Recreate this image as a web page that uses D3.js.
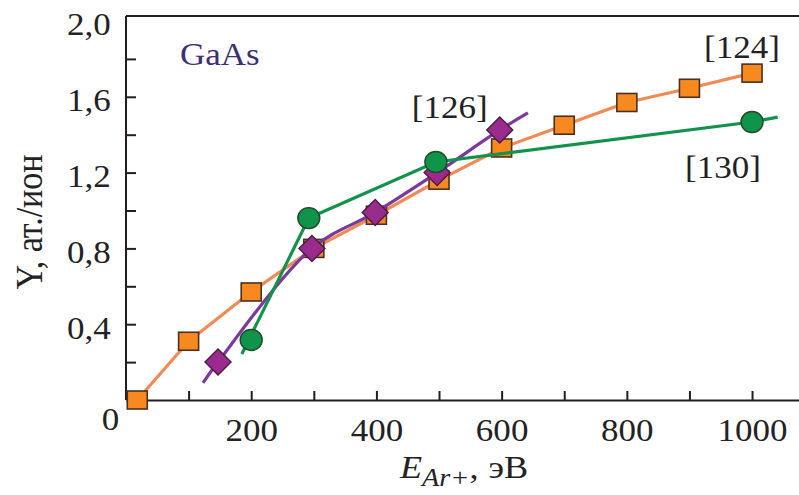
<!DOCTYPE html>
<html>
<head>
<meta charset="utf-8">
<script src="https://cdn.jsdelivr.net/npm/d3@7"></script>
<style>
  html, body { margin: 0; padding: 0; background: #fff; }
  svg { display: block; }
  svg text { font-family: "Liberation Serif", "Times New Roman", Times, "Nimbus Roman", serif; }
</style>
</head>
<body>
<svg id="chart" width="799" height="495"></svg>
<script>
// Sputtering yield of GaAs versus Ar+ ion energy, three literature sources.

// [124] — squares joined by a polyline
const energy124 = [18, 100, 200, 300, 400, 500, 600, 700, 800, 900, 1000];
const yield124  = [0.0, 0.31, 0.57, 0.80, 0.975, 1.16, 1.33, 1.45, 1.57, 1.645, 1.725];

// [126] — diamonds, with a guide curve extended past both ends
const energy126 = [147, 297, 398, 497, 597];
const yield126  = [0.20, 0.80, 0.99, 1.20, 1.425];
const guideEnergy126 = [123, 147, 297, 398, 497, 597, 642];
const guideYield126  = [0.09, 0.20, 0.80, 0.99, 1.20, 1.425, 1.515];

// [130] — circles, with a broken-line guide
const energy130 = [200, 292, 495, 1000];
const yield130  = [0.317, 0.96, 1.256, 1.467];
const guideEnergy130 = [185, 292, 495, 1000, 1041];
const guideYield130  = [0.243, 0.96, 1.256, 1.467, 1.493];

// Axis ticks
const xTickValues = [100, 200, 300, 400, 500, 600, 700, 800, 900, 1000];
const xTickLabels = ["", "200", "", "400", "", "600", "", "800", "", "1000"];
const yTickValues = [0, 0.2, 0.4, 0.6, 0.8, 1.0, 1.2, 1.4, 1.6, 1.8, 2.0];
const yTickLabels = ["0", "", "0,4", "", "0,8", "", "1,2", "", "1,6", "", "2,0"];

const seriesLabels = ["[124]", "[126]", "[130]"];
const materialLabel = "GaAs";

const SX = 1.13;           // horizontal stretch of the lettering
const FONT = 31;

const svg = d3.select("#chart");
const W = 799, H = 495;
const plot = { left: 126, right: 799, top: 16, bottom: 400 };

const x = d3.scaleLinear().domain([0, 1075]).range([plot.left, plot.right]);
const y = d3.scaleLinear().domain([0, 2.0]).range([plot.bottom, 21]);

svg.append("rect").attr("width", W).attr("height", H).attr("fill", "#fff");

const axisColor = "#231f20";

// top frame line
svg.append("line")
  .attr("x1", plot.left).attr("x2", plot.right)
  .attr("y1", plot.top).attr("y2", plot.top)
  .attr("stroke", axisColor).attr("stroke-width", 2);

// X axis
const xAxis = svg.append("g")
  .attr("transform", `translate(0,${plot.bottom})`)
  .call(d3.axisBottom(x)
    .tickValues(xTickValues)
    .tickSize(-9)
    .tickSizeOuter(0)
    .tickFormat((d, i) => xTickLabels[i]));
xAxis.attr("font-family", null);
xAxis.select(".domain").attr("stroke", axisColor).attr("stroke-width", 2);
xAxis.selectAll(".tick line").attr("stroke", axisColor).attr("stroke-width", 2);
xAxis.selectAll(".tick text")
  .attr("fill", "#222")
  .attr("font-size", FONT)
  .attr("y", 41).attr("dy", 0)
  .attr("transform", `scale(${SX},1)`);

// Y axis
const yAxis = svg.append("g")
  .attr("transform", `translate(${plot.left},0)`)
  .call(d3.axisLeft(y)
    .tickValues(yTickValues)
    .tickSize(-10)
    .tickSizeOuter(0)
    .tickFormat((d, i) => yTickLabels[i]));
yAxis.attr("font-family", null);
yAxis.select(".domain")
  .attr("d", `M0,${plot.top}V${plot.bottom}`)
  .attr("stroke", axisColor).attr("stroke-width", 2);
yAxis.selectAll(".tick line").attr("stroke", axisColor).attr("stroke-width", 2);
yAxis.selectAll(".tick")
  .filter(d => d === 0 || d === 2.0)
  .select("line").remove();
yAxis.selectAll(".tick text")
  .attr("fill", "#222")
  .attr("font-size", FONT)
  .attr("x", -13.5)
  .attr("dy", "0.35em")
  .attr("y", 3)
  .attr("transform", `scale(${SX},1)`);
// the zero label sits below the corner
yAxis.selectAll(".tick").filter(d => d === 0).select("text")
  .attr("x", -6).attr("y", 19);

// Series
const line = d3.line().x(d => x(d[0])).y(d => y(d[1]));

const pts124 = d3.zip(energy124, yield124);
const pts126 = d3.zip(energy126, yield126);
const pts130 = d3.zip(energy130, yield130);
const guide126 = d3.zip(guideEnergy126, guideYield126);
const guide130 = d3.zip(guideEnergy130, guideYield130);

// [124]
svg.append("path")
  .attr("d", line.curve(d3.curveLinear)(pts124))
  .attr("fill", "none").attr("stroke", "#f28a55").attr("stroke-width", 3.2)
  .attr("stroke-linejoin", "round");
svg.append("g").selectAll("rect").data(pts124).join("rect")
  .attr("x", d => x(d[0]) - 10).attr("y", d => y(d[1]) - 9)
  .attr("width", 20).attr("height", 18)
  .attr("fill", "#f7891f").attr("stroke", "#4a3020").attr("stroke-width", 1.6);

// [126]
svg.append("path")
  .attr("d", line.curve(d3.curveCatmullRom.alpha(0.5))(guide126))
  .attr("fill", "none").attr("stroke", "#7a3a9c").attr("stroke-width", 3.2);
svg.append("g").selectAll("path").data(pts126).join("path")
  .attr("d", d => {
    const cx = x(d[0]), cy = y(d[1]);
    return `M${cx},${cy - 13}L${cx + 13},${cy}L${cx},${cy + 13}L${cx - 13},${cy}Z`;
  })
  .attr("fill", "#9a2b8c").attr("stroke", "#4a1c44").attr("stroke-width", 1.4);

// [130]
svg.append("path")
  .attr("d", line.curve(d3.curveLinear)(guide130))
  .attr("fill", "none").attr("stroke", "#12924a").attr("stroke-width", 3.2);
svg.append("g").selectAll("ellipse").data(pts130).join("ellipse")
  .attr("cx", d => x(d[0])).attr("cy", d => y(d[1]))
  .attr("rx", 11).attr("ry", 10.5)
  .attr("fill", "#10944a").attr("stroke", "#1c4a2a").attr("stroke-width", 1.4);

// Lettering
function stretchedText(px, py, txt, size, anchor, fill) {
  return svg.append("text")
    .attr("transform", `translate(${px},${py}) scale(${SX},1)`)
    .attr("font-size", size)
    .attr("text-anchor", anchor || "start")
    .attr("fill", fill || "#222")
    .text(txt);
}

stretchedText(x(1000) - 48, y(1.725) - 15, seriesLabels[0], FONT);
stretchedText(x(597) - 88, y(1.425) - 12, seriesLabels[1], FONT);
stretchedText(x(1000) - 67, y(1.467) + 56, seriesLabels[2], FONT);
stretchedText(180, 65, materialLabel, FONT, "start", "#3d2f73");

// Axis titles
const xt = svg.append("text")
  .attr("transform", `translate(400,478) scale(${SX},1)`)
  .attr("font-size", 32).attr("fill", "#222");
xt.append("tspan").attr("font-style", "italic").text("E");
xt.append("tspan").attr("font-style", "italic").attr("font-size", 25).attr("dy", 8).text("Ar+");
xt.append("tspan").attr("dy", -8).text(",");
xt.append("tspan").attr("dx", 9).text("эВ");

svg.append("text")
  .attr("transform", `translate(42,222) scale(${SX},1) rotate(-90)`)
  .attr("font-size", 34).attr("text-anchor", "middle").attr("fill", "#222")
  .text("Y, ат./ион");
</script>
</body>
</html>
